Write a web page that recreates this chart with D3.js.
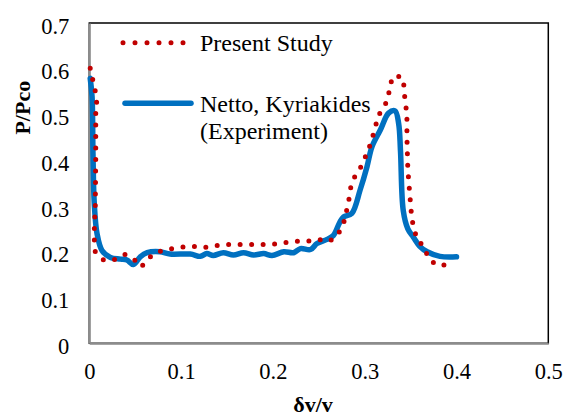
<!DOCTYPE html>
<html>
<head>
<meta charset="utf-8">
<script src="https://cdn.jsdelivr.net/npm/d3@7"></script>
<style>
  body { margin: 0; background: #fff; }
  svg { display: block; }
</style>
</head>
<body>
<svg id="chart" width="563" height="418"></svg>
<script>
// ---- data ----
const xTicks = [0, 0.1, 0.2, 0.3, 0.4, 0.5];
const yTicks = [0, 0.1, 0.2, 0.3, 0.4, 0.5, 0.6, 0.7];
const seriesNames = ["Present Study", "Netto, Kyriakides", "(Experiment)"];

const presentX = [0.001, 0.0065, 0.008, 0.007, 0.007, 0.0065, 0.0055, 0.0055, 0.0065, 0.0156, 0.026, 0.039, 0.048, 0.0566, 0.065, 0.075, 0.087, 0.099, 0.112, 0.1245, 0.1366, 0.149, 0.1745, 0.199, 0.2117, 0.224, 0.237, 0.249, 0.262, 0.2715, 0.277, 0.2825, 0.284, 0.288, 0.295, 0.299, 0.304, 0.308, 0.3115, 0.314, 0.322, 0.326, 0.327, 0.333, 0.342, 0.343, 0.344, 0.346, 0.346, 0.347, 0.349, 0.351, 0.353, 0.357, 0.364, 0.370, 0.378, 0.3895];
const presentY = [0.601, 0.551, 0.528, 0.503, 0.40, 0.30, 0.251, 0.225, 0.200, 0.182, 0.182, 0.194, 0.185, 0.167, 0.187, 0.200, 0.206, 0.210, 0.212, 0.209, 0.213, 0.216, 0.216, 0.216, 0.2195, 0.223, 0.223, 0.227, 0.223, 0.240, 0.262, 0.309, 0.335, 0.360, 0.382, 0.400, 0.422, 0.448, 0.470, 0.495, 0.520, 0.539, 0.565, 0.586, 0.579, 0.554, 0.528, 0.503, 0.450, 0.380, 0.328, 0.280, 0.254, 0.229, 0.211, 0.185, 0.171, 0.171];

const exptX = [0.001, 0.003, 0.004, 0.0054, 0.0084, 0.0138, 0.023, 0.034, 0.041, 0.048, 0.0555, 0.063, 0.077, 0.088, 0.110, 0.121, 0.128, 0.135, 0.146, 0.157, 0.168, 0.179, 0.190, 0.199, 0.212, 0.2225, 0.230, 0.241, 0.248, 0.259, 0.266, 0.273, 0.277, 0.286, 0.295, 0.3025, 0.308, 0.317, 0.326, 0.333, 0.337, 0.339, 0.342, 0.347, 0.353, 0.360, 0.368, 0.382, 0.400];
const exptY = [0.579, 0.539, 0.415, 0.306, 0.240, 0.203, 0.1875, 0.184, 0.182, 0.172, 0.189, 0.198, 0.200, 0.195, 0.195, 0.190, 0.196, 0.192, 0.198, 0.193, 0.198, 0.193, 0.196, 0.192, 0.200, 0.198, 0.207, 0.205, 0.218, 0.227, 0.236, 0.265, 0.276, 0.284, 0.335, 0.386, 0.430, 0.466, 0.503, 0.508, 0.480, 0.420, 0.290, 0.250, 0.232, 0.212, 0.200, 0.190, 0.189];

// ---- layout ----
const svg = d3.select("#chart");
const pLeft = 89.3, pRight = 548.3, pTop = 23, pBottom = 343.3;
const x = d3.scaleLinear().domain([0, 0.5]).range([pLeft, pRight]);
const y = d3.scaleLinear().domain([0, 0.7]).range([pBottom, pTop]);
const font = "'Liberation Serif', 'Times New Roman', serif";

// plot frame
svg.append("rect").attr("x", pLeft).attr("y", pTop)
  .attr("width", pRight - pLeft).attr("height", pBottom - pTop)
  .attr("fill", "none").attr("stroke", "#000").attr("stroke-width", 1.5);

// axes
const gx = svg.append("g").attr("transform", `translate(0,${pBottom})`)
  .call(d3.axisBottom(x).tickValues(xTicks).tickSize(0).tickPadding(20).tickFormat(d3.format("")));
const gy = svg.append("g").attr("transform", `translate(${pLeft},0)`)
  .call(d3.axisLeft(y).tickValues(yTicks).tickSize(0).tickPadding(20).tickFormat(d3.format("")));
[gx, gy].forEach(g => {
  g.attr("font-family", null).attr("font-size", null);
  g.select(".domain").attr("stroke", "#8c8c8c").attr("stroke-width", 2);
  g.selectAll("text").style("font-family", font).style("font-size", "22.5px").attr("fill", "#000");
});
gy.selectAll("text").attr("y", 3);

// series
const presentData = presentX.map((d, i) => [d, presentY[i]]);
const exptData = exptX.map((d, i) => [d, exptY[i]]);

svg.append("path").datum(exptData)
  .attr("fill", "none").attr("stroke", "#0070C0").attr("stroke-width", 5.5)
  .attr("stroke-linejoin", "round").attr("stroke-linecap", "round")
  .attr("d", d3.line().x(d => x(d[0])).y(d => y(d[1])).curve(d3.curveCatmullRom.alpha(0.5)));

svg.append("path").datum(presentData)
  .attr("fill", "none").attr("stroke", "#C00000").attr("stroke-width", 5)
  .attr("stroke-linecap", "round").attr("stroke-dasharray", "0 11.5")
  .attr("d", d3.line().x(d => x(d[0])).y(d => y(d[1])));

// legend
const lg = svg.append("g");
lg.append("line").attr("x1", 123).attr("x2", 184).attr("y1", 42.7).attr("y2", 42.7)
  .attr("stroke", "#C00000").attr("stroke-width", 5).attr("stroke-linecap", "round")
  .attr("stroke-dasharray", "0 12");
lg.append("text").attr("x", 200).attr("y", 50.5).text(seriesNames[0]);
lg.append("line").attr("x1", 125).attr("x2", 191).attr("y1", 103.3).attr("y2", 103.3)
  .attr("stroke", "#0070C0").attr("stroke-width", 5.5).attr("stroke-linecap", "round");
lg.append("text").attr("x", 200).attr("y", 112).text(seriesNames[1]);
lg.append("text").attr("x", 200).attr("y", 138.5).text(seriesNames[2]);
lg.selectAll("text").style("font-family", font).style("font-size", "24px").attr("fill", "#000");

// axis titles
svg.append("text").attr("transform", "translate(30,107.7) rotate(-90)")
  .attr("text-anchor", "middle").style("font-family", font).style("font-size", "22px")
  .attr("font-weight", "bold").text("P/Pco");
svg.append("text").attr("x", 313).attr("y", 411.7)
  .attr("text-anchor", "middle").style("font-family", font).style("font-size", "22px")
  .attr("font-weight", "bold").text("δv/v");
</script>
</body>
</html>
